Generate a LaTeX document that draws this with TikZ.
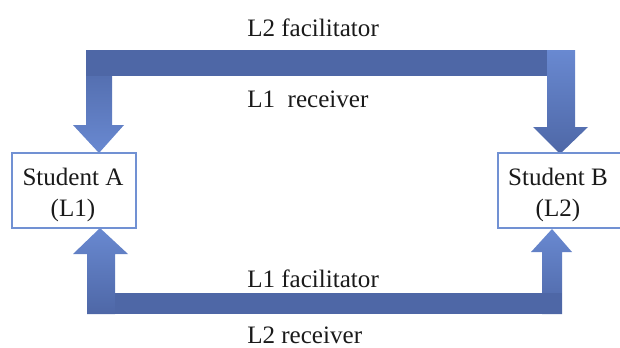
\documentclass[tikz,border=0pt]{standalone}
\usepackage{fontspec}
\setmainfont{Liberation Serif}
\definecolor{bardark}{HTML}{4E67A6}
\definecolor{barlight}{HTML}{6989D1}
\definecolor{boxline}{HTML}{7191D3}
\definecolor{txt}{HTML}{1A1A1A}
\tikzset{
  studentbox/.style={draw=boxline, line width=1.6pt, fill=white, inner sep=0pt},
  boxtext/.style={align=center, inner sep=0pt, text=txt, font=\fontsize{18.8}{23.3}\selectfont},
  lbl/.style={anchor=base west, inner sep=0pt, text=txt, font=\fontsize{18.8}{22}\selectfont},
  bar/.style={fill=bardark},
  downshade/.style={top color=bardark, bottom color=barlight},
  upshade/.style={top color=barlight, bottom color=bardark}
}
\begin{document}
\begin{tikzpicture}[x=0.75pt,y=-0.75pt]
\useasboundingbox (0,0) rectangle (620,347);
% top block arrow
\shade[downshade] (86,50) -- (112,50) -- (112,125) -- (124,125) -- (99,153) -- (73,125) -- (86,125) -- cycle;
\fill[bar] (86,50) rectangle (560,76);
\shade[upshade] (547,50) -- (575,50) -- (575,127) -- (588,127) -- (560,154) -- (533,127) -- (547,127) -- cycle;
% bottom block arrow
\shade[upshade] (542,314) -- (542,252) -- (531,252) -- (552,229) -- (572,252) -- (562,252) -- (562,314) -- cycle;
\fill[bar] (113,293) rectangle (562,314);
\shade[upshade] (87,314) -- (87,254) -- (73,254) -- (100,228) -- (128,254) -- (115,254) -- (115,314) -- cycle;
% boxes
\node[studentbox, minimum width=93pt, minimum height=56.25pt] (A) at (74,190.5) {};
\node[studentbox, minimum width=94pt, minimum height=56.25pt] (B) at (560.5,190.5) {};
\node[boxtext] (At) at (73,195) {Student A\\(L1)};
\node[boxtext] (Bt) at (558,195) {Student B\\(L2)};
% labels
\node[lbl] (l2f) at (247,36) {L2 facilitator};
\node[lbl] (l1r) at (247,107) {L1\ \ receiver};
\node[lbl] (l1f) at (247,287) {L1 facilitator};
\node[lbl] (l2r) at (247,343) {L2 receiver};
\end{tikzpicture}
\end{document}
